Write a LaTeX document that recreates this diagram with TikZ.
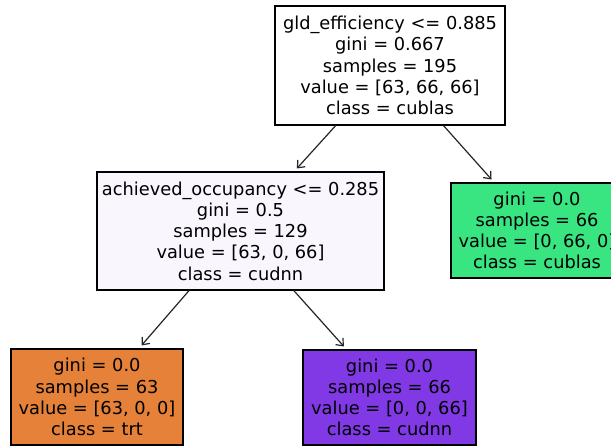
\documentclass[tikz,border=0pt]{standalone}
\usepackage{fontspec}
\setmainfont{DejaVu Sans}
\usetikzlibrary{arrows.meta}
\definecolor{midfill}{HTML}{F9F6FE}
\definecolor{greenfill}{HTML}{39E581}
\definecolor{orangefill}{HTML}{E58139}
\definecolor{purplefill}{HTML}{8139E5}
\tikzset{
  treebox/.style={draw=black, line width=1.1pt, align=center, inner sep=0pt,
    font=\fontsize{17.8}{21.2}\selectfont, text=black},
  edge/.style={draw=black!85, line width=1.2pt, -{Straight Barb[length=6pt,width=10pt]}, shorten >=4pt}
}
\begin{document}
\begin{tikzpicture}[x=1pt,y=-1pt]
\clip (0,0) rectangle (611,446);
\useasboundingbox (0,0) rectangle (611,446);
\fill[white] (0,0) rectangle (611,446);
\node[treebox, fill=white, minimum width=230pt, minimum height=119pt] (root) at (390,65.5)
  {gld\_efficiency <= 0.885\\gini = 0.667\\samples = 195\\value = [63, 66, 66]\\class = cublas};
\node[treebox, fill=midfill, minimum width=287pt, minimum height=118pt] (mid) at (240.5,231)
  {achieved\_occupancy <= 0.285\\gini = 0.5\\samples = 129\\value = [63, 0, 66]\\class = cudnn};
\node[treebox, fill=greenfill, minimum width=172pt, minimum height=95pt] (green) at (537,230.5)
  {gini = 0.0\\samples = 66\\value = [0, 66, 0]\\class = cublas};
\node[treebox, fill=orangefill, minimum width=172pt, minimum height=96pt] (orange) at (97,397)
  {gini = 0.0\\samples = 63\\value = [63, 0, 0]\\class = trt};
\node[treebox, fill=purplefill, minimum width=173pt, minimum height=95pt] (purple) at (389.5,397.5)
  {gini = 0.0\\samples = 66\\value = [0, 0, 66]\\class = cudnn};
\draw[edge] (root) -- (mid);
\draw[edge] (root) -- (green);
\draw[edge] (mid) -- (orange);
\draw[edge] (mid) -- (purple);
\end{tikzpicture}
\end{document}
